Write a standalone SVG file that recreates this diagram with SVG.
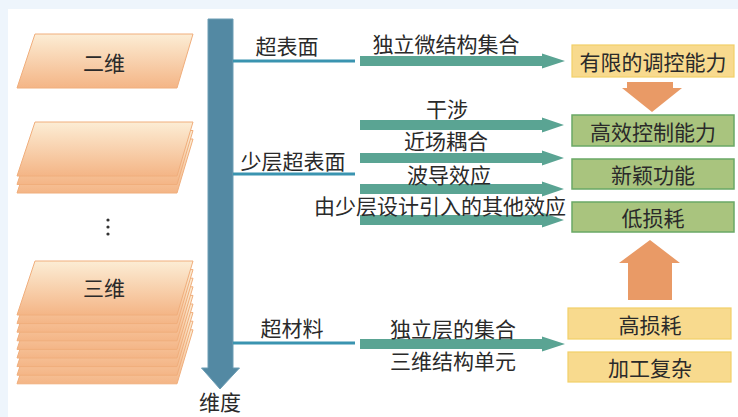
<svg xmlns="http://www.w3.org/2000/svg" xmlns:xlink="http://www.w3.org/1999/xlink" width="738" height="417" viewBox="0 0 738 417">
<style>
text{font-family:"Noto Sans CJK SC","Noto Sans",sans-serif;font-size:21px;fill:#2a2a2a;text-anchor:middle;dominant-baseline:central}
.sheet{fill:url(#sg);stroke:#f0ae7c;stroke-width:1}
.thin{stroke:#3a94b0;stroke-width:3;fill:none}
.garrow{fill:#5aa493}
.ybox{fill:#f8da8e;stroke:#f2d068;stroke-width:1.2}
.gbox{fill:#a9c47e;stroke:#6aa866;stroke-width:1.5}
.oarrow{fill:#e99a66}
</style>
<defs>
<linearGradient id="sg" x1="0" y1="0" x2="0" y2="1">
<stop offset="0" stop-color="#fcedd5"/>
<stop offset="1" stop-color="#f4b586"/>
</linearGradient>
<path id="sheet" d="M35,0 H193 L177,54 H17 Z"/>
</defs>
<rect x="0" y="0" width="738" height="417" fill="#eef5fc"/>
<rect x="8" y="9" width="730" height="408" fill="#ffffff"/>

<g id="node-2d">
<use xlink:href="#sheet" class="sheet" y="34"/>
<text x="104" y="62">二维</text>
</g>

<g id="node-fewlayer">
<use xlink:href="#sheet" class="sheet" y="139"/>
<use xlink:href="#sheet" class="sheet" y="130.5"/>
<use xlink:href="#sheet" class="sheet" y="122"/>
</g>

<g id="node-dots" fill="#333">
<circle cx="108" cy="220" r="1.6"/>
<circle cx="108" cy="227" r="1.6"/>
<circle cx="108" cy="234" r="1.6"/>
</g>

<g id="node-3d">
<use xlink:href="#sheet" class="sheet" y="329.8"/>
<use xlink:href="#sheet" class="sheet" y="321.2"/>
<use xlink:href="#sheet" class="sheet" y="312.6"/>
<use xlink:href="#sheet" class="sheet" y="304"/>
<use xlink:href="#sheet" class="sheet" y="295.4"/>
<use xlink:href="#sheet" class="sheet" y="286.8"/>
<use xlink:href="#sheet" class="sheet" y="278.2"/>
<use xlink:href="#sheet" class="sheet" y="269.6"/>
<use xlink:href="#sheet" class="sheet" y="261"/>
<text x="104" y="287">三维</text>
</g>

<g id="axis">
<path d="M208,19 H233 V368 H239.5 L220,389 L201.5,368 H208 Z" fill="#5389a3" stroke="#6c9db4" stroke-width="1"/>
<text x="220" y="401">维度</text>
</g>

<g id="connectors">
<line class="thin" x1="233" y1="61" x2="355" y2="61"/>
<line class="thin" x1="233" y1="174" x2="355" y2="174"/>
<line class="thin" x1="233" y1="343" x2="355" y2="343"/>
<path class="garrow" d="M360,56 H542 V53.5 L565,61 L542,68.5 V66 H360 Z"/>
<path class="garrow" d="M360,120 H542 V117.5 L564,125 L542,132.5 V130 H360 Z"/>
<path class="garrow" d="M360,153 H542 V150.5 L564,158 L542,165.5 V163 H360 Z"/>
<path class="garrow" d="M360,184 H542 V181.5 L564,189 L542,196.5 V194 H360 Z"/>
<path class="garrow" d="M360,215 H542 V212.5 L564,220 L542,227.5 V225 H360 Z"/>
<path class="garrow" d="M360,339 H542 V336.5 L565,344 L542,351.5 V349 H360 Z"/>
<path class="oarrow" d="M627,82 H673 V88 H682 L652,112 L622,88 H627 Z"/>
<path class="oarrow" d="M628,300 V263 H619 L650,240 L680,263 H672 V300 Z"/>
</g>

<g id="labels">
<text x="287" y="45">超表面</text>
<text x="293" y="160">少层超表面</text>
<text x="292" y="327">超材料</text>
<text x="446" y="43">独立微结构集合</text>
<text x="447" y="108">干涉</text>
<text x="446" y="140">近场耦合</text>
<text x="449" y="174">波导效应</text>
<text x="440" y="205">由少层设计引入的其他效应</text>
<text x="453" y="328">独立层的集合</text>
<text x="453" y="360">三维结构单元</text>
</g>

<g id="box-limited">
<rect class="ybox" x="572" y="45" width="162" height="32"/>
<text x="653" y="61">有限的调控能力</text>
</g>
<g id="box-control">
<rect class="gbox" x="572" y="115" width="162" height="31"/>
<text x="653" y="130.5">高效控制能力</text>
</g>
<g id="box-novel">
<rect class="gbox" x="572" y="159" width="162" height="30"/>
<text x="653" y="174">新颖功能</text>
</g>
<g id="box-lowloss">
<rect class="gbox" x="572" y="202" width="162" height="30"/>
<text x="653" y="217">低损耗</text>
</g>
<g id="box-highloss">
<rect class="ybox" x="568" y="308" width="163" height="31"/>
<text x="650" y="323.5">高损耗</text>
</g>
<g id="box-complex">
<rect class="ybox" x="568" y="352" width="163" height="30"/>
<text x="650" y="367">加工复杂</text>
</g>
</svg>
